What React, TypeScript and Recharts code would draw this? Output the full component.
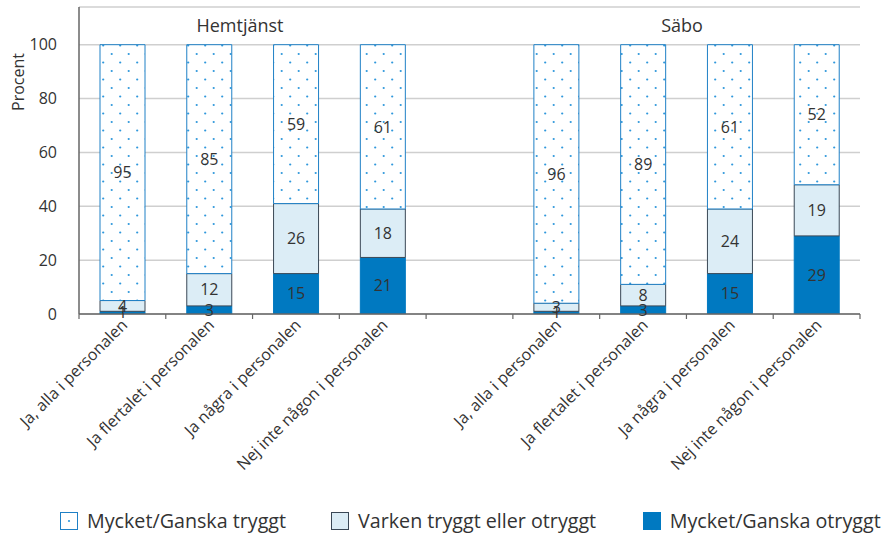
import React from "react";
import { BarChart, Bar, XAxis, YAxis, CartesianGrid, LabelList, Legend } from "recharts";

const categories = [
  "Ja, alla i personalen",
  "Ja flertalet i personalen",
  "Ja några i personalen",
  "Nej inte någon i personalen",
  "",
  "Ja, alla i personalen",
  "Ja flertalet i personalen",
  "Ja några i personalen",
  "Nej inte någon i personalen",
];
const otryggt = [1, 3, 15, 21, null, 1, 3, 15, 29];
const varken = [4, 12, 26, 18, null, 3, 8, 24, 19];
const tryggt = [95, 85, 59, 61, null, 96, 89, 61, 52];
const yTicks = [0, 20, 40, 60, 80, 100];
const groupTitles = ["Hemtjänst", "Säbo"];

const W = 881;
const H = 533;
const PLOT_LEFT = 79;
const PLOT_RIGHT = 860;
const STEP = (PLOT_RIGHT - PLOT_LEFT) / categories.length;

const TEXT = "#333333";
const AXIS = "#666666";
const DARK = "#0079c1";
const LIGHT = "#dcedf6";
const DOT = "#2f98dc";

const data = categories.map((name, i) => ({
  name,
  otryggt: otryggt[i],
  varken: varken[i],
  tryggt: tryggt[i],
}));

const legendItems = [
  { key: "tryggt", label: "Mycket/Ganska tryggt", width: 273 },
  { key: "varken", label: "Varken tryggt eller otryggt", width: 314 },
  { key: "otryggt", label: "Mycket/Ganska otryggt", width: 240 },
];

function CategoryTick(props: any) {
  const { x, y, payload, index } = props;
  const left = x - STEP / 2;
  const ax = x + 6;
  const ay = y + 12;
  return (
    <g>
      <line x1={left} x2={left} y1={y} y2={y + 5} stroke={AXIS} strokeWidth={1.2} />
      {index === categories.length - 1 && (
        <line x1={x + STEP / 2} x2={x + STEP / 2} y1={y} y2={y + 5} stroke={AXIS} strokeWidth={1.2} />
      )}
      {payload.value && (
        <text
          x={ax}
          y={ay}
          transform={`rotate(-45 ${ax} ${ay})`}
          textAnchor="end"
          fontSize={16}
          fill={TEXT}
        >
          {payload.value}
        </text>
      )}
    </g>
  );
}

function LegendIcon({ k }: { k: string }) {
  if (k === "tryggt") {
    return (
      <svg width={18} height={18} style={{ display: "block" }}>
        <rect x={0.5} y={0.5} width={17} height={17} fill="#fff" stroke="#1f80c6" />
        <circle cx={9} cy={9} r={1.1} fill={DOT} />
      </svg>
    );
  }
  if (k === "varken") {
    return (
      <svg width={18} height={18} style={{ display: "block" }}>
        <rect x={0.5} y={0.5} width={17} height={17} fill={LIGHT} stroke="#3a4856" />
      </svg>
    );
  }
  return (
    <svg width={18} height={18} style={{ display: "block" }}>
      <rect x={0} y={0} width={18} height={18} fill={DARK} />
    </svg>
  );
}

function renderLegend() {
  return (
    <div style={{ display: "flex", alignItems: "center", paddingLeft: 60 }}>
      {legendItems.map((it) => (
        <div key={it.key} style={{ display: "flex", alignItems: "center", width: it.width }}>
          <LegendIcon k={it.key} />
          <span style={{ marginLeft: 9, fontSize: 19.7, color: TEXT, whiteSpace: "nowrap" }}>{it.label}</span>
        </div>
      ))}
    </div>
  );
}

export default function App() {
  return (
    <div
      style={{
        position: "absolute",
        left: 0,
        top: 0,
        width: W,
        height: H,
        background: "#fff",
        fontFamily: "'Open Sans', sans-serif",
      }}
    >
      <BarChart
        width={W}
        height={H}
        data={data}
        margin={{ top: 7, right: W - PLOT_RIGHT, bottom: 0, left: 0 }}
        barSize={45}
      >
        <defs>
          <pattern id="dots" width={17} height={17} patternUnits="userSpaceOnUse">
            <rect width={17} height={17} fill="#fff" />
            <circle cx={9.7} cy={3} r={1.1} fill={DOT} />
            <circle cx={1.2} cy={11.5} r={1.1} fill={DOT} />
          </pattern>
        </defs>
        <CartesianGrid vertical={false} stroke="#cfcfcf" strokeWidth={1.5} />
        <XAxis
          dataKey="name"
          interval={0}
          height={H - 314}
          tickLine={false}
          tickSize={0}
          tickMargin={0}
          stroke={AXIS}
          strokeWidth={1.5}
          tick={<CategoryTick />}
        />
        <YAxis
          width={PLOT_LEFT}
          domain={[0, 114]}
          ticks={yTicks}
          tickLine={false}
          tickMargin={16}
          stroke={AXIS}
          strokeWidth={1.5}
          tick={{ fill: TEXT, fontSize: 16 }}
          allowDataOverflow
        />
        <Legend
          verticalAlign="middle"
          layout="horizontal"
          content={renderLegend}
          wrapperStyle={{ top: 507, left: 0, width: W }}
        />
        <Bar dataKey="otryggt" stackId="s" fill={DARK} stroke={DARK} isAnimationActive={false}>
          <LabelList dataKey="otryggt" position="center" fill={TEXT} fontSize={16} />
        </Bar>
        <Bar dataKey="varken" stackId="s" fill={LIGHT} stroke="#3a4856" isAnimationActive={false}>
          <LabelList dataKey="varken" position="center" fill={TEXT} fontSize={16} />
        </Bar>
        <Bar dataKey="tryggt" stackId="s" fill="url(#dots)" stroke="#1f80c6" isAnimationActive={false}>
          <LabelList dataKey="tryggt" position="center" fill={TEXT} fontSize={16} />
        </Bar>
      </BarChart>
      <div
        style={{
          position: "absolute",
          left: 17.5,
          top: 81.5,
          transform: "translate(-50%, -50%) rotate(-90deg)",
          fontSize: 16,
          lineHeight: "20px",
          color: TEXT,
          whiteSpace: "nowrap",
        }}
      >
        Procent
      </div>
      {groupTitles.map((t, i) => (
        <div
          key={t}
          style={{
            position: "absolute",
            top: 13,
            left: i === 0 ? 240 : 682,
            transform: "translateX(-50%)",
            fontSize: 18,
            color: TEXT,
            whiteSpace: "nowrap",
          }}
        >
          {t}
        </div>
      ))}
    </div>
  );
}
